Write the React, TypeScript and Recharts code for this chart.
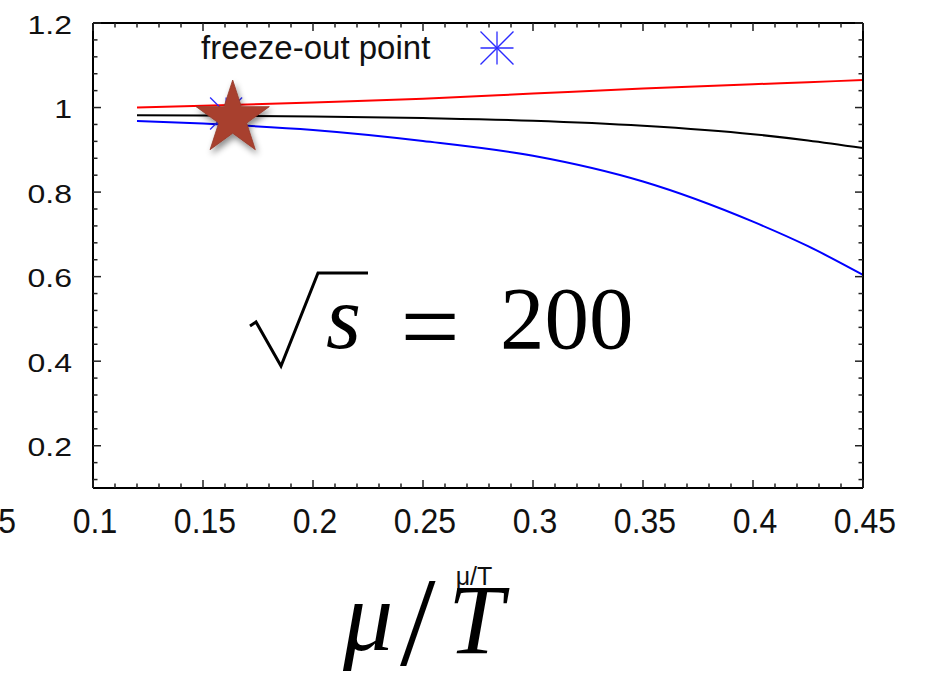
import React from 'react';
import { ComposedChart, Line, Scatter, XAxis, YAxis } from 'recharts';

// mu/T grid and the three ratio curves
const muT = [0.12, 0.15, 0.2, 0.25, 0.3, 0.35, 0.4, 0.425, 0.45];
const redCurve = [1.0, 1.004, 1.012, 1.021, 1.033, 1.045, 1.055, 1.06, 1.065];
const blackCurve = [0.982, 0.981, 0.979, 0.975, 0.969, 0.957, 0.937, 0.922, 0.904];
const blueCurve = [0.968, 0.962, 0.947, 0.921, 0.886, 0.825, 0.73, 0.672, 0.604];

const freezeOut = [{ x: 0.1605, y: 0.986 }];
const starMark = [{ x: 0.1635, y: 0.974 }];

const xMajor = [0.05, 0.1, 0.15, 0.2, 0.25, 0.3, 0.35, 0.4, 0.45];
const xLabels = ['0.05', '0.1', '0.15', '0.2', '0.25', '0.3', '0.35', '0.4', '0.45'];
const yMajor = [0.2, 0.4, 0.6, 0.8, 1, 1.2];
const yLabels = ['0.2', '0.4', '0.6', '0.8', '1', '1.2'];

const steps = (from: number, to: number, step: number) => {
  const out: number[] = [];
  for (let v = from; v <= to + 1e-9; v += step) out.push(Math.round(v * 1000) / 1000);
  return out;
};
const xTicks = [0.05, ...steps(0.1, 0.45, 0.01)];
const yTicks = steps(0.12, 1.2, 0.04);

const data = muT.map((m, i) => ({ x: m, red: redCurve[i], black: blackCurve[i], blue: blueCurve[i] }));

const SANS = '"Liberation Sans", Arial, sans-serif';
const SERIF = '"Liberation Serif", "Times New Roman", serif';
const BLUE_PT = '#2b2bff';

const majorIdx = (list: number[], v: number) => list.findIndex((m) => Math.abs(m - v) < 1e-6);

const BottomTick = (props: any) => {
  const { x, y, payload } = props;
  const i = majorIdx(xMajor, payload.value);
  const len = i >= 0 ? 8 : 4.5;
  return (
    <g>
      <line x1={x} y1={y} x2={x} y2={y - len} stroke="#222" strokeWidth={1.5} />
      {i >= 0 && (
        <text transform={`translate(${x + 2},${y + 45}) scale(1,1.1)`} textAnchor="middle" fontFamily={SANS} fontSize={32} fill="#111">
          {xLabels[i]}
        </text>
      )}
    </g>
  );
};

const TopTick = (props: any) => {
  const { x, y, payload } = props;
  const len = majorIdx(xMajor, payload.value) >= 0 ? 8 : 4.5;
  return <line x1={x} y1={y} x2={x} y2={y + len} stroke="#222" strokeWidth={1.5} />;
};

const LeftTick = (props: any) => {
  const { x, y, payload } = props;
  const i = majorIdx(yMajor, payload.value);
  const len = i >= 0 ? 8 : 4.5;
  return (
    <g>
      <line x1={x} y1={y} x2={x + len} y2={y} stroke="#222" strokeWidth={1.5} />
      {i >= 0 && (
        <text transform={`translate(${x - 21},${y + 10.5}) scale(1,0.82)`} textAnchor="end" fontFamily={SANS} fontSize={32} fill="#111">
          {yLabels[i]}
        </text>
      )}
    </g>
  );
};

const RightTick = (props: any) => {
  const { x, y, payload } = props;
  const len = majorIdx(yMajor, payload.value) >= 0 ? 8 : 4.5;
  return <line x1={x} y1={y} x2={x - len} y2={y} stroke="#222" strokeWidth={1.5} />;
};

const Asterisk = ({ cx, cy, h = 16 }: any) => (
  <g stroke={BLUE_PT} strokeWidth={1.3}>
    <line x1={cx - h} y1={cy} x2={cx + h} y2={cy} />
    <line x1={cx} y1={cy - h} x2={cx} y2={cy + h} />
    <line x1={cx - h} y1={cy - h} x2={cx + h} y2={cy + h} />
    <line x1={cx - h} y1={cy + h} x2={cx + h} y2={cy - h} />
  </g>
);

const Star = ({ cx, cy }: any) => {
  const R = 38.5;
  const r = R * 0.382;
  const pts: string[] = [];
  for (let k = 0; k < 10; k++) {
    const rad = k % 2 === 0 ? R : r;
    const a = -Math.PI / 2 + (k * Math.PI) / 5;
    pts.push(`${cx + rad * Math.cos(a)},${cy + rad * Math.sin(a)}`);
  }
  return (
    <g>
      <defs>
        <filter id="starShadow" x="-50%" y="-50%" width="200%" height="200%">
          <feDropShadow dx="2" dy="4" stdDeviation="3" floodColor="#000" floodOpacity="0.45" />
        </filter>
      </defs>
      <polygon points={pts.join(' ')} fill="#a8412f" stroke="#93382a" strokeWidth={0.8} filter="url(#starShadow)" />
    </g>
  );
};

export default function App() {
  return (
    <div style={{ position: 'absolute', left: 0, top: 0, width: 928, height: 677, background: '#fff' }}>
      <ComposedChart width={928} height={677} data={data} margin={{ top: 22, right: 64, bottom: 0, left: 0 }}>
        <XAxis
          xAxisId="bottom"
          dataKey="x"
          type="number"
          domain={[0.1, 0.45]}
          allowDataOverflow
          ticks={xTicks}
          interval={0}
          height={189}
          tickSize={0}
          tickMargin={0}
          tickLine={false}
          tick={<BottomTick />}
          axisLine={{ stroke: '#000', strokeWidth: 2 }}
        />
        <XAxis
          xAxisId="top"
          orientation="top"
          dataKey="x"
          type="number"
          domain={[0.1, 0.45]}
          allowDataOverflow
          ticks={xTicks}
          interval={0}
          height={1}
          tickSize={0}
          tickMargin={0}
          tickLine={false}
          tick={<TopTick />}
          axisLine={{ stroke: '#000', strokeWidth: 2 }}
        />
        <YAxis
          yAxisId="left"
          type="number"
          domain={[0.1, 1.2]}
          allowDataOverflow
          ticks={yTicks}
          interval={0}
          width={93}
          tickSize={0}
          tickMargin={0}
          tickLine={false}
          tick={<LeftTick />}
          axisLine={{ stroke: '#000', strokeWidth: 2 }}
        />
        <YAxis
          yAxisId="right"
          orientation="right"
          type="number"
          domain={[0.1, 1.2]}
          allowDataOverflow
          ticks={yTicks}
          interval={0}
          width={1}
          tickSize={0}
          tickMargin={0}
          tickLine={false}
          tick={<RightTick />}
          axisLine={{ stroke: '#000', strokeWidth: 2 }}
        />
        <Line xAxisId="bottom" yAxisId="left" type="monotone" dataKey="black" stroke="#000" strokeWidth={2} dot={false} isAnimationActive={false} />
        <Line xAxisId="bottom" yAxisId="left" type="monotone" dataKey="blue" stroke="#0000ff" strokeWidth={2} dot={false} isAnimationActive={false} />
        <Line xAxisId="top" yAxisId="right" type="monotone" dataKey="red" stroke="#ff0000" strokeWidth={2} dot={false} isAnimationActive={false} />
        <Scatter xAxisId="bottom" yAxisId="left" data={freezeOut} dataKey="y" shape={<Asterisk />} isAnimationActive={false} />
        <Scatter xAxisId="bottom" yAxisId="left" data={starMark} dataKey="y" shape={<Star />} isAnimationActive={false} />
      </ComposedChart>
      <svg width={928} height={677} style={{ position: 'absolute', left: 0, top: 0, pointerEvents: 'none' }}>
        {/* key */}
        <text x={201} y={59} fontFamily={SANS} fontSize={33} fill="#111">freeze-out point</text>
        <Asterisk cx={497} cy={48} h={16.5} />
        {/* sqrt(s) = 200 */}
        <path d="M 250 326 L 256 322 L 281 366 L 318 273 L 368 273" fill="none" stroke="#000" strokeWidth={3} strokeLinejoin="miter" />
        <text x={326} y={348} fontFamily={SERIF} fontStyle="italic" fontSize={90} fill="#000">s</text>
        <text x={430} y={362} textAnchor="middle" fontFamily={SERIF} fontSize={105} fill="#000">=</text>
        <text x={500} y={348} fontFamily={SERIF} fontSize={89} fill="#000">200</text>
        {/* axis title */}
        <text x={474} y={585} textAnchor="middle" fontFamily={SANS} fontSize={25} fill="#111">μ/T</text>
        <text x={343} y={650} fontFamily={SERIF} fontStyle="italic" fontSize={100} fill="#000">μ</text>
        <text x={400} y={665} fontFamily={SERIF} fontSize={128} fill="#000">/</text>
        <text x={448} y={653} fontFamily={SERIF} fontStyle="italic" fontSize={100} fill="#000">T</text>
      </svg>
    </div>
  );
}
